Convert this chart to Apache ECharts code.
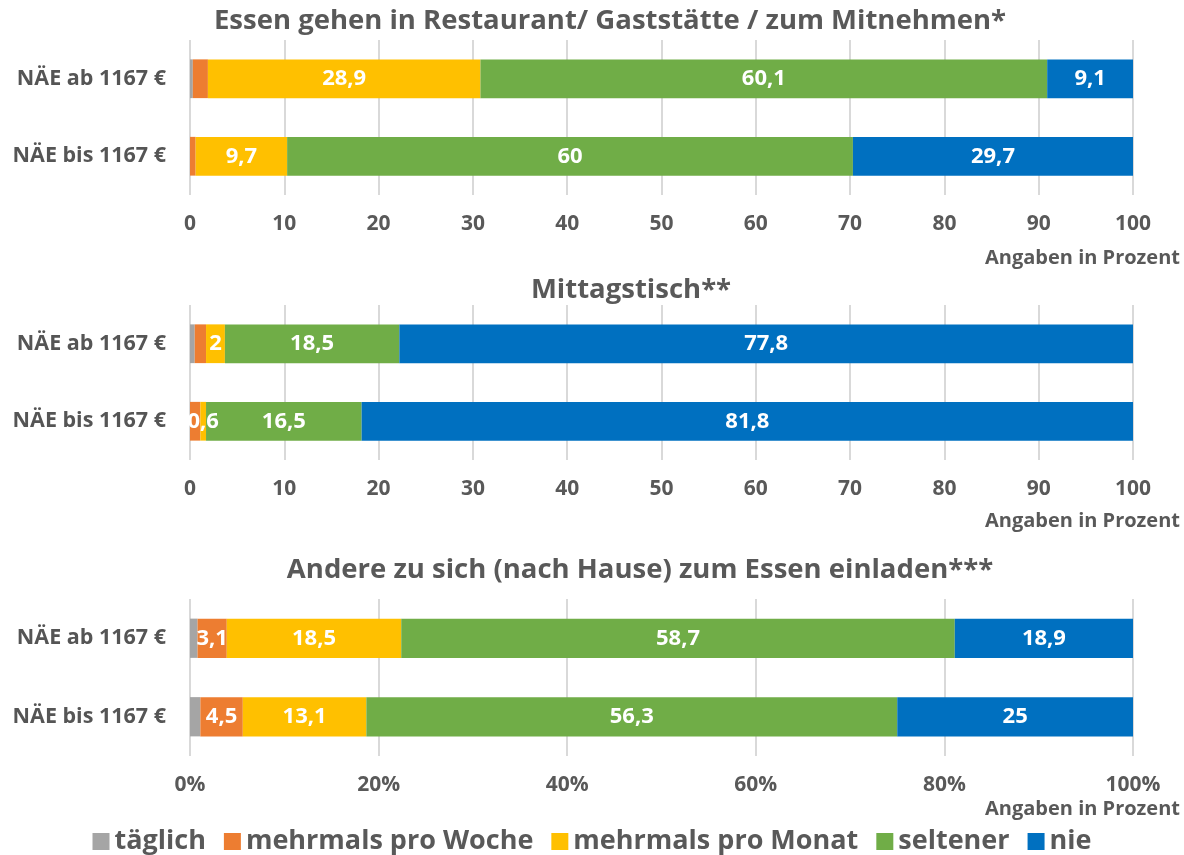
<!DOCTYPE html>
<html><head><meta charset="utf-8">
<script src="https://cdn.jsdelivr.net/npm/echarts@6/dist/echarts.min.js"></script>
<style>html,body{margin:0;padding:0;background:#fff}#c{width:1184px;height:855px}</style>
</head><body><div id="c"></div>
<script>
const categories = ['NÄE ab 1167 €', 'NÄE bis 1167 €'];
const seriesNames = ['täglich', 'mehrmals pro Woche', 'mehrmals pro Monat', 'seltener', 'nie'];
const titles = ['Essen gehen in Restaurant/ Gaststätte / zum Mitnehmen*', 'Mittagstisch**', 'Andere zu sich (nach Hause) zum Essen einladen***'];
const axisNote = 'Angaben in Prozent';

// Chart 1: Restaurant
const restTaeglich = [0.3, 0];
const restWoche = [1.6, 0.6];
const restMonat = [28.9, 9.7];
const restSeltener = [60.1, 60];
const restNie = [9.1, 29.7];
// Chart 2: Mittagstisch
const mittTaeglich = [0.5, 0];
const mittWoche = [1.2, 1.1];
const mittMonat = [2, 0.6];
const mittSeltener = [18.5, 16.5];
const mittNie = [77.8, 81.8];
// Chart 3: Einladen
const einTaeglich = [0.8, 1.1];
const einWoche = [3.1, 4.5];
const einMonat = [18.5, 13.1];
const einSeltener = [58.7, 56.3];
const einNie = [18.9, 25];

const tickLabels12 = [0, 10, 20, 30, 40, 50, 60, 70, 80, 90, 100];
const tickLabels3 = ['0%', '20%', '40%', '60%', '80%', '100%'];

const colors = ['#A5A5A5', '#ED7D31', '#FFC000', '#70AD47', '#0070C0'];
const FONT = 'Open Sans';
const TXT = '#595959';

const groups = [
  [restTaeglich, restWoche, restMonat, restSeltener, restNie],
  [mittTaeglich, mittWoche, mittMonat, mittSeltener, mittNie],
  [einTaeglich, einWoche, einMonat, einSeltener, einNie]
];
// which series show labels in each chart
const labelShow = [
  [false, false, true, true, true],
  [false, false, true, true, true],
  [false, true, true, true, true]
];

const grids = [
  {left: 190, right: 51, top: 40, height: 155},
  {left: 190, right: 51, top: 305, height: 155},
  {left: 190, right: 51, top: 599, height: 157}
];

const xAxes = grids.map((g, i) => ({
  type: 'value', gridIndex: i, min: 0, max: 100, interval: i === 2 ? 20 : 10,
  axisLine: {show: false}, axisTick: {show: false},
  splitLine: {show: true, lineStyle: {color: '#D9D9D9', width: 2}},
  axisLabel: {
    margin: 19, fontSize: 21, fontWeight: 'bold', color: TXT, fontFamily: FONT,
    formatter: i === 2 ? (v => tickLabels3[v / 20]) : (v => String(tickLabels12[v / 10]))
  }
}));
const yAxes = grids.map((g, i) => ({
  type: 'category', gridIndex: i, data: categories, inverse: true,
  axisLine: {show: false}, axisTick: {show: false},
  axisLabel: {margin: 24, fontSize: 21.5, fontWeight: 'bold', color: '#555555', fontFamily: FONT}
}));

const series = [];
groups.forEach((grp, gi) => {
  grp.forEach((vals, si) => {
    series.push({
      name: seriesNames[si], type: 'bar', stack: 'g' + gi,
      xAxisIndex: gi, yAxisIndex: gi, barWidth: '50%',
      data: vals,
      itemStyle: {color: colors[si]},
      label: {
        show: labelShow[gi][si], position: 'inside', color: '#fff',
        fontSize: 22, fontWeight: 'bold', fontFamily: FONT,
        formatter: p => p.value > 0 ? String(p.value).replace('.', ',') : ''
      },
      labelLayout: {hideOverlap: false}
    });
  });
});

const titleY = [21, 290, 570];
const titleX = [610, 631, 640];
const noteY = [258, 521, 809];
const graphic = [];
titles.forEach((t, i) => {
  graphic.push({type: 'text', x: titleX[i], y: titleY[i],
    style: {text: t, fill: TXT, font: 'bold 27.5px "' + FONT + '"', textAlign: 'center', textVerticalAlign: 'middle'}});
  graphic.push({type: 'text', x: 1180, y: noteY[i],
    style: {text: axisNote, fill: TXT, font: 'bold 20px "' + FONT + '"', textAlign: 'right', textVerticalAlign: 'middle'}});
});

const chart = echarts.init(document.getElementById('c'), null, {renderer: 'canvas'});
chart.setOption({
  animation: false,
  color: colors,
  grid: grids,
  xAxis: xAxes,
  yAxis: yAxes,
  legend: {
    data: seriesNames, left: 'center', top: 823, itemWidth: 17, itemHeight: 17, itemGap: 18,
    icon: 'rect',
    textStyle: {fontSize: 27, fontWeight: 'bold', color: TXT, fontFamily: FONT}
  },
  graphic: graphic,
  series: series
});
</script></body></html>
